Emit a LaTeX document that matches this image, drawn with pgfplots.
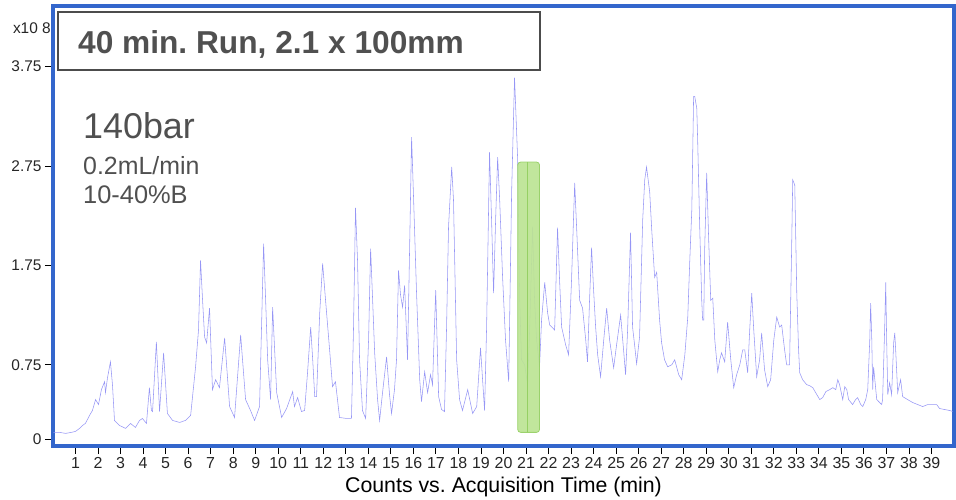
\documentclass[border=0pt]{standalone}
\usepackage{fontspec}
\setmainfont{Liberation Sans}
\usepackage{pgfplots}
\pgfplotsset{compat=1.18}
\usepackage{pgfplotstable}
\definecolor{frameblue}{RGB}{51,102,204}
\definecolor{chromline}{RGB}{150,150,245}
\definecolor{txtgray}{RGB}{80,80,80}
\definecolor{barfill}{RGB}{188,228,148}
\definecolor{bardraw}{RGB}{150,208,100}

\pgfplotstableread{
t v
0.02 0.07
0.29 0.07
0.56 0.06
0.82 0.07
1.00 0.08
1.18 0.11
1.31 0.14
1.44 0.16
1.62 0.24
1.75 0.29
1.89 0.40
2.02 0.35
2.15 0.50
2.29 0.58
2.33 0.47
2.42 0.62
2.55 0.78
2.64 0.55
2.73 0.19
2.95 0.14
3.22 0.11
3.44 0.16
3.66 0.12
3.84 0.19
3.97 0.21
4.15 0.16
4.28 0.52
4.37 0.29
4.42 0.28
4.59 0.98
4.73 0.28
4.91 0.87
5.08 0.26
5.31 0.19
5.62 0.17
5.88 0.19
6.11 0.24
6.33 0.73
6.46 1.10
6.55 1.80
6.64 1.40
6.73 1.03
6.82 0.97
6.95 1.32
7.08 0.50
7.22 0.60
7.39 0.52
7.62 1.02
7.84 0.33
8.06 0.22
8.33 1.05
8.55 0.40
8.77 0.29
8.95 0.19
9.17 0.33
9.35 1.97
9.44 1.40
9.53 0.80
9.66 0.40
9.75 1.33
9.93 0.47
10.15 0.22
10.37 0.31
10.64 0.48
10.72 0.33
10.86 0.42
11.03 0.28
11.17 0.29
11.30 0.67
11.44 1.13
11.53 0.80
11.62 0.43
11.70 0.43
11.84 1.27
11.97 1.77
12.10 1.40
12.28 0.90
12.41 0.53
12.54 0.58
12.72 0.22
13.03 0.21
13.25 0.21
13.34 1.10
13.43 2.33
13.52 1.80
13.61 0.80
13.74 0.29
13.88 0.21
14.01 1.00
14.10 1.92
14.19 1.40
14.28 0.87
14.41 0.40
14.50 0.19
14.63 0.47
14.81 0.83
14.94 0.45
15.03 0.26
15.16 0.50
15.25 0.80
15.34 1.70
15.43 1.45
15.52 1.33
15.61 1.55
15.74 0.80
15.83 1.90
15.92 3.04
16.01 2.41
16.14 1.47
16.28 0.60
16.36 0.38
16.50 0.68
16.63 0.47
16.76 0.65
16.85 0.55
16.99 1.50
17.12 0.43
17.25 0.30
17.38 0.28
17.47 1.10
17.56 2.14
17.70 2.74
17.78 2.41
17.92 0.80
18.05 0.40
18.18 0.29
18.41 0.50
18.63 0.26
18.81 0.33
18.98 0.92
19.16 0.29
19.25 1.13
19.38 2.89
19.47 2.21
19.56 1.47
19.65 2.21
19.74 2.84
19.83 2.41
19.96 1.63
20.09 1.00
20.23 0.58
20.36 2.48
20.49 3.64
20.63 2.81
20.72 1.40
20.80 0.80
20.94 0.75
21.07 0.55
21.16 1.10
21.29 2.14
21.38 1.40
21.47 1.00
21.60 0.73
21.69 1.20
21.83 1.58
21.96 1.27
22.05 1.15
22.14 1.13
22.27 1.10
22.40 2.13
22.49 1.60
22.58 1.13
22.76 0.95
22.89 0.85
23.02 1.60
23.16 2.58
23.25 2.11
23.38 1.40
23.51 1.32
23.65 1.00
23.73 0.78
23.82 1.40
23.91 1.93
24.00 1.50
24.09 1.13
24.18 0.85
24.31 0.63
24.45 1.00
24.58 1.32
24.71 1.00
24.89 0.72
25.02 0.95
25.20 1.25
25.33 0.90
25.42 0.65
25.51 1.10
25.64 2.08
25.73 1.13
25.82 0.95
25.91 0.76
26.04 1.03
26.18 2.21
26.27 2.61
26.35 2.74
26.49 2.49
26.58 2.11
26.71 1.63
26.80 1.68
26.93 1.20
27.02 0.97
27.15 0.80
27.29 0.73
27.47 0.75
27.60 0.80
27.78 0.65
27.91 0.60
28.05 0.85
28.18 1.23
28.27 1.80
28.36 2.31
28.44 3.45
28.49 3.45
28.58 3.33
28.62 3.01
28.71 2.14
28.80 1.40
28.84 1.20
28.89 1.20
28.93 1.90
29.02 2.68
29.11 2.00
29.20 1.40
29.29 1.42
29.38 1.00
29.51 0.68
29.60 0.80
29.68 0.87
29.82 0.78
29.95 1.18
30.09 0.80
30.22 0.52
30.35 0.65
30.49 0.75
30.62 0.90
30.71 0.90
30.84 0.67
30.93 1.10
31.02 1.47
31.11 1.10
31.24 0.63
31.37 0.80
31.46 1.07
31.59 0.70
31.73 0.53
31.86 0.60
32.00 1.00
32.13 1.23
32.26 1.13
32.35 1.15
32.48 0.90
32.57 0.75
32.70 0.75
32.79 1.90
32.84 2.61
32.93 2.56
33.02 1.47
33.10 0.90
33.15 0.67
33.28 0.60
33.46 0.55
33.59 0.54
33.73 0.52
33.91 0.45
34.04 0.40
34.17 0.42
34.31 0.48
34.48 0.50
34.62 0.52
34.75 0.50
34.84 0.60
34.92 0.55
35.06 0.40
35.15 0.53
35.24 0.50
35.32 0.40
35.50 0.35
35.63 0.40
35.72 0.42
35.86 0.35
35.95 0.33
36.08 0.40
36.17 0.50
36.26 1.00
36.30 1.37
36.35 1.00
36.39 0.50
36.43 0.73
36.57 0.40
36.70 0.37
36.79 0.35
36.83 0.40
36.92 1.10
36.97 1.58
37.01 1.00
37.06 0.45
37.14 0.57
37.23 0.45
37.32 0.97
37.37 1.07
37.41 0.90
37.50 0.47
37.63 0.60
37.72 0.43
37.94 0.40
38.17 0.37
38.39 0.35
38.61 0.33
38.83 0.35
39.05 0.35
39.23 0.35
39.36 0.31
39.59 0.30
39.81 0.29
39.94 0.28
}\chrom

\begin{document}
\frenchspacing
\begin{tikzpicture}
\begin{axis}[
  scale only axis,
  width=901bp, height=440bp,
  xmin=0, xmax=40, ymin=-0.067, ymax=4.36,
  axis line style={frameblue, line width=4.5bp},
  xtick={1,2,...,39},
  ytick={0,0.75,1.75,2.75,3.75},
  yticklabels={0,0.75,1.75,2.75,3.75},
  xtick pos=bottom, ytick pos=left,
  tick align=outside,
  major tick length=8bp,
  tick style={black, line width=0.9bp},
  /pgf/number format/assume math mode=true,
  xticklabel style={font=\fontsize{16}{18}\selectfont, text=black!85},
  yticklabel style={font=\fontsize{15.5}{17}\selectfont, text=black!85},
  xlabel={Counts vs. Acquisition Time (min)},
  xlabel style={font=\fontsize{21.4}{24}\selectfont, at={(axis description cs:0.5,0)}, anchor=base, yshift=-46.5bp},
  clip=true,
]
\addplot[chromline, line width=0.55bp] table[x=t, y=v] {\chrom};
\addplot[fill=barfill, draw=bardraw, line width=0.8bp, rounded corners=3bp, opacity=0.92] coordinates {(20.63,0.07) (20.63,2.79) (21.60,2.79) (21.60,0.07)} -- cycle;
\addplot[bardraw, line width=0.8bp] coordinates {(21.07,0.07) (21.07,2.79)};
\draw[black!70, line width=2.5bp, fill=white] (rel axis cs:0.00555,0.8545) rectangle (rel axis cs:0.5405,0.986);
\node[anchor=base west, font=\fontsize{31.8}{34}\selectfont\bfseries, text=txtgray, inner sep=0pt] at (rel axis cs:0.0277,0.892) {40 min. Run, 2.1 x 100mm};
\node[anchor=base west, font=\fontsize{36}{40}\selectfont, text=txtgray, inner sep=0pt] at (rel axis cs:0.0333,0.698) {140bar};
\node[anchor=base west, font=\fontsize{25}{28}\selectfont, text=txtgray, inner sep=0pt] at (rel axis cs:0.0333,0.616) {0.2mL/min};
\node[anchor=base west, font=\fontsize{25.5}{28}\selectfont, text=txtgray, inner sep=0pt] at (rel axis cs:0.0333,0.552) {10-40\%B};
\end{axis}
\node[anchor=east, font=\fontsize{15.5}{17}\selectfont, text=black!85, inner sep=0pt] at ([xshift=-2bp, yshift=-22bp]current axis.north west) {x10 8};
\pgfresetboundingbox
\path ([shift={(-53bp,-54bp)}]current axis.south west) rectangle ([shift={(2bp,6bp)}]current axis.north east);
\end{tikzpicture}
\end{document}
